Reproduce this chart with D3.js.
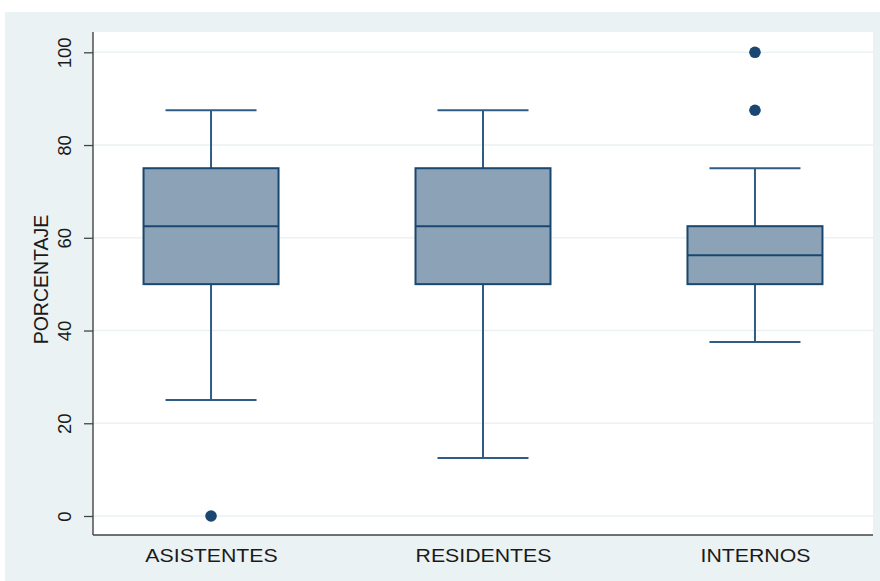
<!DOCTYPE html>
<html>
<head>
<meta charset="utf-8">
<script src="https://cdn.jsdelivr.net/npm/d3@7"></script>
<style>
  html, body { margin: 0; padding: 0; background: #ffffff; }
  svg { display: block; font-family: "Liberation Sans", Arial, sans-serif; }
</style>
</head>
<body>
<svg id="chart" width="880" height="581"></svg>
<script>
// Groups and their box-plot summaries (percent)
const groups    = ["ASISTENTES", "RESIDENTES", "INTERNOS"];
const whiskerHi = [87.5, 87.5, 75];
const q3        = [75, 75, 62.5];
const medians   = [62.5, 62.5, 56.25];
const q1        = [50, 50, 50];
const whiskerLo = [25, 12.5, 37.5];
const outliers  = [[0], [], [87.5, 100]];
const yTicks    = [0, 20, 40, 60, 80, 100];
const yTitle    = "PORCENTAJE";

const navy = "#1a476f";
const boxFill = "#8ca3b7";
const bg = "#eaf2f3";

const svg = d3.select("#chart");

// outer graph region
svg.append("rect").attr("x", 5).attr("y", 12).attr("width", 875).attr("height", 569).attr("fill", bg);

const plot = { left: 93, right: 873, top: 32, bottom: 535 };
svg.append("rect")
  .attr("x", plot.left).attr("y", plot.top)
  .attr("width", plot.right - plot.left).attr("height", plot.bottom - plot.top)
  .attr("fill", "#ffffff");

const y = d3.scaleLinear().domain([0, 100]).range([516, 52.3]);
const x = d3.scalePoint().domain(groups).range([plot.left, plot.right]).padding(0.434);
const boxW = 135, capW = 91;

// horizontal grid lines
svg.append("g").selectAll("line").data(yTicks).join("line")
  .attr("x1", plot.left).attr("x2", plot.right)
  .attr("y1", d => y(d)).attr("y2", d => y(d))
  .attr("stroke", bg).attr("stroke-width", 1.6);

// y axis
const yAxis = d3.axisLeft(y).tickValues(yTicks).tickSize(9).tickSizeOuter(0).tickPadding(0);
const gy = svg.append("g").attr("transform", `translate(${plot.left},0)`).call(yAxis);
gy.select(".domain").remove();
gy.selectAll(".tick line").attr("stroke", "#444").attr("stroke-width", 1.3);
gy.selectAll(".tick text")
  .attr("transform", "translate(-22,0) rotate(-90)")
  .attr("x", 0).attr("y", 0).attr("dy", 0)
  .attr("text-anchor", "middle")
  .attr("font-size", 18.5)
  .attr("fill", "#1a1a1a");

svg.append("line")
  .attr("x1", plot.left).attr("x2", plot.left)
  .attr("y1", plot.top).attr("y2", plot.bottom)
  .attr("stroke", "#444").attr("stroke-width", 1.4);

// x axis
const xAxis = d3.axisBottom(x).tickSize(0).tickPadding(0);
const gx = svg.append("g").attr("transform", `translate(0,${plot.bottom})`).call(xAxis);
gx.select(".domain").remove();
gx.selectAll(".tick text")
  .attr("y", 0).attr("dy", 0)
  .attr("transform", "translate(0,27) scale(1.12,1)")
  .attr("text-anchor", "middle")
  .attr("font-size", 19)
  .attr("fill", "#1a1a1a");

svg.append("line")
  .attr("x1", plot.left).attr("x2", plot.right)
  .attr("y1", plot.bottom).attr("y2", plot.bottom)
  .attr("stroke", "#444").attr("stroke-width", 1.4);

// axis title
svg.append("text")
  .attr("transform", `translate(48,${(plot.top + plot.bottom) / 2 - 4}) rotate(-90)`)
  .attr("text-anchor", "middle")
  .attr("font-size", 19.5)
  .attr("fill", "#1a1a1a")
  .text(yTitle);

// boxes
const rows = groups.map((g, i) => ({
  g, hi: whiskerHi[i], q3: q3[i], med: medians[i], q1: q1[i], lo: whiskerLo[i], out: outliers[i]
}));

const gb = svg.append("g");
rows.forEach(d => {
  const cx = x(d.g);
  // whiskers
  gb.append("line").attr("x1", cx).attr("x2", cx).attr("y1", y(d.hi)).attr("y2", y(d.q3))
    .attr("stroke", "#2f5b84").attr("stroke-width", 2);
  gb.append("line").attr("x1", cx).attr("x2", cx).attr("y1", y(d.q1)).attr("y2", y(d.lo))
    .attr("stroke", "#2f5b84").attr("stroke-width", 2);
  gb.append("line").attr("x1", cx - capW / 2).attr("x2", cx + capW / 2).attr("y1", y(d.hi)).attr("y2", y(d.hi))
    .attr("stroke", "#2f5b84").attr("stroke-width", 2);
  gb.append("line").attr("x1", cx - capW / 2).attr("x2", cx + capW / 2).attr("y1", y(d.lo)).attr("y2", y(d.lo))
    .attr("stroke", "#2f5b84").attr("stroke-width", 2);
  // box
  gb.append("rect")
    .attr("x", cx - boxW / 2).attr("y", y(d.q3))
    .attr("width", boxW).attr("height", y(d.q1) - y(d.q3))
    .attr("fill", boxFill).attr("stroke", navy).attr("stroke-width", 2);
  gb.append("line").attr("x1", cx - boxW / 2).attr("x2", cx + boxW / 2)
    .attr("y1", y(d.med)).attr("y2", y(d.med))
    .attr("stroke", navy).attr("stroke-width", 2);
  // outside values
  d.out.forEach(v => {
    gb.append("circle").attr("cx", cx).attr("cy", y(v)).attr("r", 5.8).attr("fill", navy);
  });
});
</script>
</body>
</html>
